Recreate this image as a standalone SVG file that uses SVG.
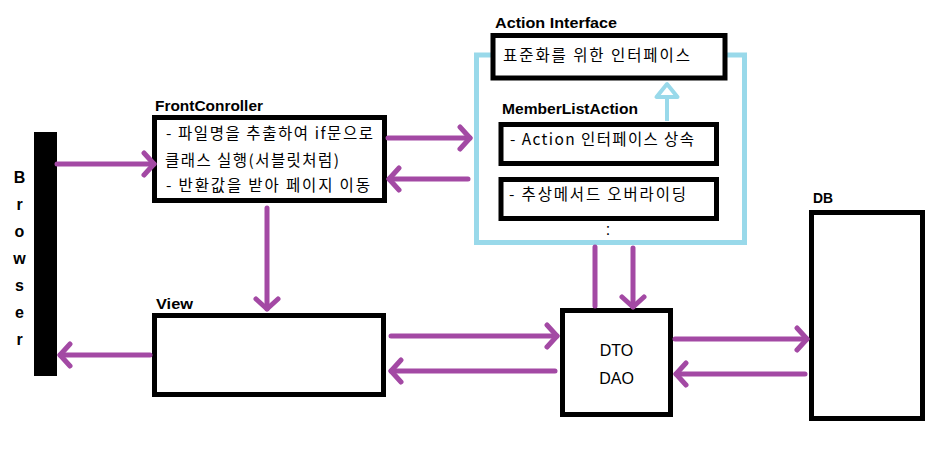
<svg xmlns="http://www.w3.org/2000/svg" width="942" height="458" viewBox="0 0 942 458">
<style>
.box{fill:#fff;stroke:#000;stroke-width:5}
.frame{fill:none;stroke:#99D9EA;stroke-width:5}
.title{font-family:"Liberation Sans",Arial,sans-serif;font-weight:bold;font-size:15.5px;fill:#000}
.ko{font-family:"Noto Sans CJK KR","Noto Sans",sans-serif;font-size:15.5px;fill:#000}
.lat{font-family:"Liberation Sans",Arial,sans-serif;font-size:16px;fill:#000}
.br{font-family:"Liberation Sans",Arial,sans-serif;font-weight:bold;font-size:16px;fill:#000;text-anchor:middle}
.con{fill:none;stroke:#A349A4;stroke-width:5;stroke-linecap:round}
</style>
<defs>
<marker id="arr" markerUnits="userSpaceOnUse" viewBox="-14 -14 18 28" refX="0" refY="0" markerWidth="18" markerHeight="28" orient="auto">
<path d="M-10,-11 L0,0 L-10,11" fill="none" stroke="#A349A4" stroke-width="5" stroke-linecap="round" stroke-linejoin="round"/>
</marker>
</defs>
<rect width="942" height="458" fill="#fff"/>

<g id="browser">
<rect x="34" y="132" width="23" height="244" fill="#000"/>
<text class="br" x="19.5" y="183">B</text>
<text class="br" x="19.5" y="210">r</text>
<text class="br" x="19.5" y="237">o</text>
<text class="br" x="19.5" y="264">w</text>
<text class="br" x="19.5" y="291">s</text>
<text class="br" x="19.5" y="318">e</text>
<text class="br" x="19.5" y="345">r</text>
</g>

<g id="action-interface">
<rect class="frame" x="476.5" y="55" width="268" height="187.5"/>
<text class="title" x="495" y="28" textLength="122" lengthAdjust="spacingAndGlyphs">Action Interface</text>
<rect class="box" x="493" y="35.5" width="232" height="42.5"/>
<text class="ko" x="503" y="60.5" textLength="187" lengthAdjust="spacing">표준화를 위한 인터페이스</text>
</g>

<g id="member-list-action">
<text class="title" x="502" y="114" textLength="136" lengthAdjust="spacingAndGlyphs">MemberListAction</text>
<rect class="box" x="501" y="124.5" width="215.5" height="39"/>
<text class="ko" x="510" y="145" textLength="184" lengthAdjust="spacing">- Action 인터페이스 상속</text>
<rect class="box" x="501" y="179.5" width="215.5" height="39"/>
<text class="ko" x="509" y="200" textLength="177" lengthAdjust="spacing">- 추상메서드 오버라이딩</text>
<text class="lat" x="608" y="235" text-anchor="middle">:</text>
</g>

<g id="front-controller">
<text class="title" x="155" y="111" textLength="108" lengthAdjust="spacingAndGlyphs">FrontConroller</text>
<rect class="box" x="154.5" y="117.5" width="230" height="83"/>
<text class="ko" x="166" y="139" textLength="207" lengthAdjust="spacing">- 파일명을 추출하여 if문으로</text>
<text class="ko" x="165" y="166" textLength="174" lengthAdjust="spacing">클래스 실행(서블릿처럼)</text>
<text class="ko" x="166" y="191" textLength="204" lengthAdjust="spacing">- 반환값을 받아 페이지 이동</text>
</g>

<g id="view">
<text class="title" x="156" y="309" textLength="37" lengthAdjust="spacingAndGlyphs">View</text>
<rect class="box" x="154.5" y="315.5" width="229" height="79"/>
</g>

<g id="dto-dao">
<rect class="box" x="562.5" y="310.5" width="108" height="104"/>
<text class="lat" x="616.5" y="356" text-anchor="middle">DTO</text>
<text class="lat" x="616.5" y="384" text-anchor="middle">DAO</text>
</g>

<g id="db">
<text class="title" x="813" y="203" textLength="20" lengthAdjust="spacingAndGlyphs">DB</text>
<rect class="box" x="811.5" y="212.5" width="111" height="206"/>
</g>

<g id="connectors">
<line class="con" x1="57" y1="164" x2="154" y2="164" marker-end="url(#arr)"/>
<line class="con" x1="388" y1="138" x2="470" y2="138" marker-end="url(#arr)"/>
<line class="con" x1="468" y1="179" x2="389" y2="179" marker-end="url(#arr)"/>
<line class="con" x1="267" y1="208" x2="267" y2="309" marker-end="url(#arr)"/>
<line class="con" x1="150" y1="355" x2="60" y2="355" marker-end="url(#arr)"/>
<line class="con" x1="391" y1="336" x2="557" y2="336" marker-end="url(#arr)"/>
<line class="con" x1="555" y1="371" x2="391" y2="371" marker-end="url(#arr)"/>
<line class="con" x1="595" y1="247" x2="595" y2="306"/>
<line class="con" x1="633" y1="248" x2="633" y2="307" marker-end="url(#arr)"/>
<line class="con" x1="675" y1="339" x2="807" y2="339" marker-end="url(#arr)"/>
<line class="con" x1="805" y1="374" x2="676" y2="374" marker-end="url(#arr)"/>
<line x1="667" y1="121" x2="667" y2="97" stroke="#99D9EA" stroke-width="4"/>
<polygon points="667,84 656.5,97 677.5,97" fill="#fff" stroke="#99D9EA" stroke-width="4" stroke-linejoin="round"/>
</g>
</svg>
